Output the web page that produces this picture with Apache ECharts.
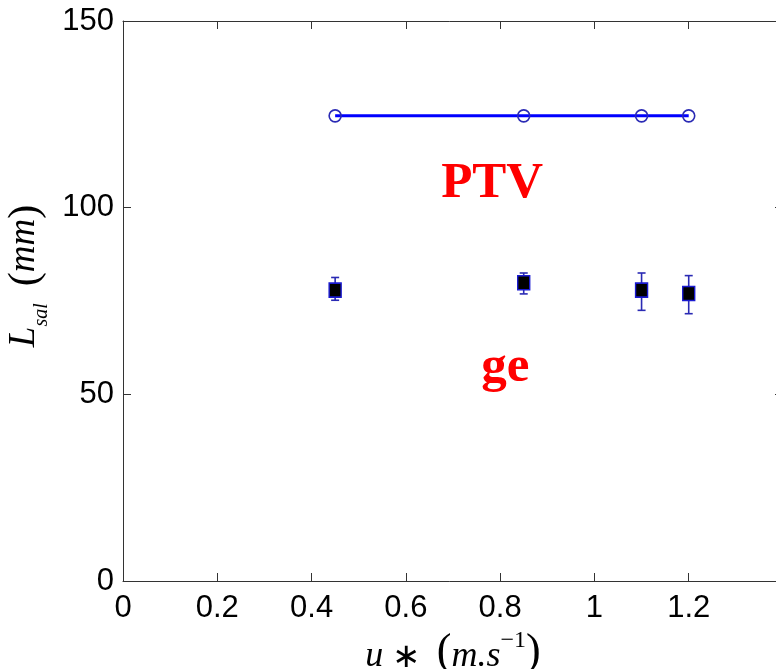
<!DOCTYPE html>
<html>
<head>
<meta charset="utf-8">
<script src="https://cdn.jsdelivr.net/npm/echarts@6/dist/echarts.min.js"></script>
<style>html,body{margin:0;padding:0;background:#fff;}#c{width:776px;height:669px;}</style>
</head>
<body>
<div id="c"></div>
<script>
// ---- data ----
const uStar = [0.45, 0.85, 1.1, 1.2];
const ptvLsal = [124.6, 124.6, 124.6, 124.6];
const geLsal = [77.9, 79.9, 77.9, 77.0];
const geLow = [75.2, 76.9, 72.5, 71.6];
const geHigh = [81.3, 82.5, 82.5, 81.8];
const xTicks = [0, 0.2, 0.4, 0.6, 0.8, 1, 1.2];
const yTicks = [0, 50, 100, 150];
const notes = [[0.783, 106.3, 'PTV'], [0.811, 57.2, 'ge']];

const tickFont = "'Liberation Sans',Arial,sans-serif";
const mathFont = "'Liberation Serif','Times New Roman',serif";
const axisColor = '#333';
const errColor = '#2a2ab4';

const chart = echarts.init(document.getElementById('c'), null, {renderer: 'canvas'});

const axisBase = {
  type: 'value',
  axisLine: {show: true, onZero: false, lineStyle: {color: axisColor, width: 1}},
  axisTick: {show: true, inside: true, length: 8, lineStyle: {color: axisColor, width: 1}},
  splitLine: {show: false}
};

chart.setOption({
  backgroundColor: '#fff',
  animation: false,
  grid: {left: 123, right: -7, top: 21, bottom: 88, containLabel: false, outerBoundsMode: 'none'},
  xAxis: [
    Object.assign({}, axisBase, {
      min: 0, max: 1.4, interval: 0.2, position: 'bottom',
      axisLabel: {
        show: true, margin: 12, color: '#000',
        fontFamily: tickFont, fontSize: 31,
        formatter: v => (xTicks.some(t => Math.abs(t - v) < 1e-9) ? String(+v.toFixed(1)) : '')
      },
      name: '{i|u} {n|∗}\u00a0\u00a0{p|(}{i|m.s}{sup|−1}{p|)}',
      nameLocation: 'middle', nameGap: 40,
      nameTextStyle: {
        fontSize: 34, fontFamily: mathFont,
        rich: {
          i: {fontFamily: mathFont, fontStyle: 'italic', fontSize: 36, color: '#000', verticalAlign: 'bottom', lineHeight: 46},
          n: {fontFamily: mathFont, fontSize: 34, color: '#000', verticalAlign: 'bottom', lineHeight: 46},
          p: {fontFamily: mathFont, fontSize: 44, color: '#000', verticalAlign: 'bottom', lineHeight: 46},
          sup: {fontFamily: mathFont, fontSize: 24, color: '#000', verticalAlign: 'top', lineHeight: 46}
        }
      }
    }),
    Object.assign({}, axisBase, {
      min: 0, max: 1.4, interval: 0.2, position: 'top',
      axisLabel: {show: false}
    })
  ],
  yAxis: [
    Object.assign({}, axisBase, {
      min: 0, max: 150, interval: 50, position: 'left',
      axisLabel: {
        show: true, margin: 9, color: '#000',
        fontFamily: tickFont, fontSize: 31,
        formatter: v => (yTicks.indexOf(v) >= 0 ? String(v) : '')
      },
      name: '{i|L}{sub|sal}\u00a0\u00a0{p|(}{i|mm}{p|)}',
      nameLocation: 'middle', nameGap: 66, nameRotate: 90,
      nameTextStyle: {
        fontSize: 34, fontFamily: mathFont, padding: [0, 0, 0, 50],
        rich: {
          i: {fontFamily: mathFont, fontStyle: 'italic', fontSize: 37, color: '#000', verticalAlign: 'top', lineHeight: 46},
          p: {fontFamily: mathFont, fontSize: 42, color: '#000', verticalAlign: 'top', lineHeight: 46},
          sub: {fontFamily: mathFont, fontStyle: 'italic', fontSize: 20, color: '#000', verticalAlign: 'bottom', lineHeight: 46}
        }
      }
    }),
    Object.assign({}, axisBase, {
      min: 0, max: 150, interval: 50, position: 'right',
      axisLabel: {show: false}
    })
  ],
  series: [
    {
      name: 'PTV line', type: 'line',
      data: uStar.map((u, i) => [u, ptvLsal[i]]),
      showSymbol: false, symbol: 'none',
      lineStyle: {color: '#0000ff', width: 3},
      z: 2
    },
    {
      name: 'PTV markers', type: 'scatter',
      data: uStar.map((u, i) => [u, ptvLsal[i]]),
      symbol: 'circle', symbolSize: 12,
      itemStyle: {color: 'rgba(0,0,0,0)', borderColor: errColor, borderWidth: 1.6, opacity: 1},
      z: 3
    },
    {
      name: 'ge error', type: 'custom',
      data: uStar.map((u, i) => [u, geLow[i], geHigh[i]]),
      renderItem: function (params, api) {
        const lo = api.coord([api.value(0), api.value(1)]);
        const hi = api.coord([api.value(0), api.value(2)]);
        const hw = 4;
        const st = {stroke: errColor, lineWidth: 1.6, fill: null};
        return {
          type: 'group',
          children: [
            {type: 'line', shape: {x1: lo[0], y1: lo[1], x2: hi[0], y2: hi[1]}, style: st},
            {type: 'line', shape: {x1: lo[0] - hw, y1: lo[1], x2: lo[0] + hw, y2: lo[1]}, style: st},
            {type: 'line', shape: {x1: hi[0] - hw, y1: hi[1], x2: hi[0] + hw, y2: hi[1]}, style: st}
          ]
        };
      },
      z: 3
    },
    {
      name: 'ge', type: 'scatter',
      data: uStar.map((u, i) => [u, geLsal[i]]),
      symbol: 'rect', symbolSize: [12, 14],
      itemStyle: {color: '#000', borderColor: '#1a1ad0', borderWidth: 1.5, opacity: 1},
      z: 4
    },
    {
      name: 'notes', type: 'scatter',
      data: notes.map(n => ({value: [n[0], n[1]], name: n[2]})),
      symbolSize: 0, silent: true,
      itemStyle: {opacity: 1},
      label: {
        show: true, position: 'inside', formatter: p => p.name,
        color: '#ff0000', fontFamily: mathFont, fontWeight: 'bold', fontSize: 51
      },
      z: 5
    }
  ]
});
</script>
</body>
</html>
